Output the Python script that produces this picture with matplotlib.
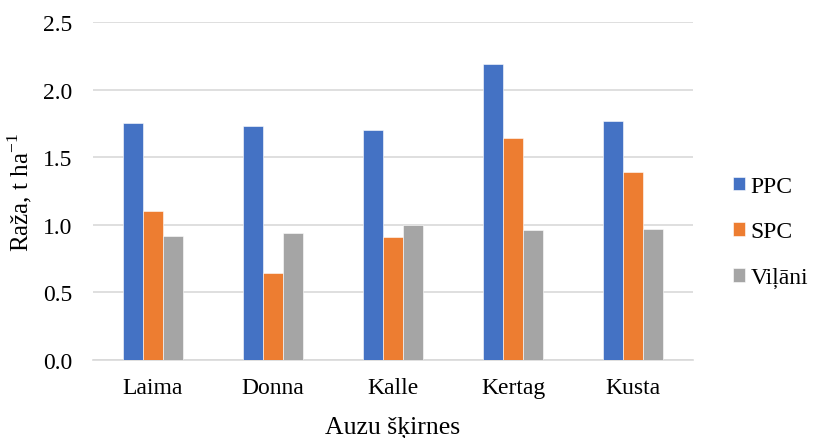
import numpy as np
import matplotlib.pyplot as plt

plt.rcParams['font.family'] = ['Liberation Serif', 'DejaVu Serif']

# yield per oat variety and location
varieties = ['Laima', 'Donna', 'Kalle', 'Kertag', 'Kusta']
ppc = [1.75, 1.73, 1.70, 2.19, 1.77]
spc = [1.10, 0.64, 0.91, 1.64, 1.39]
vilani = [0.92, 0.94, 1.00, 0.96, 0.97]
series = ['PPC', 'SPC', 'Viļāni']
colors = ['#4472C4', '#ED7D31', '#A5A5A5']

fig = plt.figure(figsize=(8.14, 4.39), dpi=100)
ax = fig.add_axes([93/814, 78/439, 600/814, 338/439])

x = np.arange(len(varieties))
w = 1/6
for i, (vals, lab, c) in enumerate(zip([ppc, spc, vilani], series, colors)):
    ax.bar(x + (i-1)*w, vals, w, color=c, label=lab, zorder=3,
           edgecolor='white', linewidth=0.4)

ax.set_xlim(-0.5, 4.5)
ax.set_ylim(0, 2.5)
ax.set_yticks(np.arange(0, 2.51, 0.5))
ax.set_yticklabels(['%.1f' % v for v in np.arange(0, 2.51, 0.5)])
ax.set_xticks(x)
ax.set_xticklabels(varieties)
ax.grid(axis='y', color='#d9d9d9', linewidth=1.2, zorder=0)
for s in ['top', 'right', 'left']:
    ax.spines[s].set_visible(False)
ax.spines['bottom'].set_color('#d9d9d9')
ax.spines['bottom'].set_linewidth(1.2)
ax.tick_params(axis='y', length=0, labelsize=17, pad=15)
ax.tick_params(axis='x', length=0, labelsize=17, pad=12)

ax.set_ylabel('Raža, t ha$^{\\mathregular{-1}}$', fontsize=18, labelpad=6)
ax.set_xlabel('Auzu šķirnes', fontsize=18.5, labelpad=13)

ax.legend(loc='center left', bbox_to_anchor=(733/814, (439-233)/439),
          bbox_transform=fig.transFigure, frameon=False, borderaxespad=0,
          borderpad=0, fontsize=17, handlelength=0.5, handleheight=0.5,
          handletextpad=0.25, labelspacing=1.05)

fig.savefig('out.png', dpi=100)
